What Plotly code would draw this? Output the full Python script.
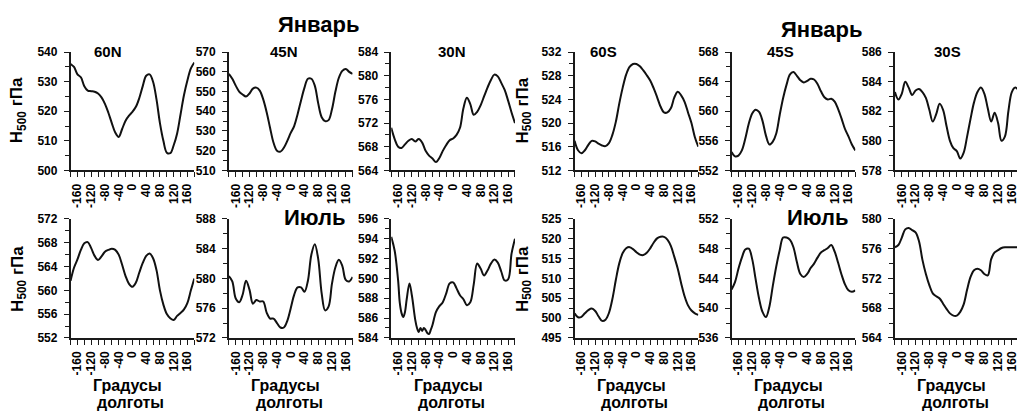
import plotly.graph_objects as go

# Longitude grid (degrees) shared by most series
LON = list(range(-180, 181, 10))

# January, H500 (gPa)
JAN_60N = [536, 535, 532.5, 531.5, 528.5, 527, 526.8, 526.6, 526, 524.7, 522.5, 519.5, 516,
           512.8, 511.3, 514, 516.8, 518.5, 519.8, 521.5, 524.5, 528.5, 532, 532.5, 530, 524,
           516, 510, 506, 505.8, 508.5, 512.5, 519, 525.5, 530.5, 534.5, 536.5]
JAN_45N = [559, 556.5, 553, 550, 548.5, 547.5, 549, 551.5, 552, 550.5, 546, 539.5, 531.5,
           524, 520, 519.5, 521.5, 525, 529, 532.5, 538.5, 545.5, 552, 556.5, 556.5, 553, 544,
           537, 535, 535.5, 541, 550, 557, 560.5, 561.5, 560, 559]
JAN_30N = [571.2, 569.3, 568, 567.8, 568.4, 569, 569.3, 568.9, 569.3, 568.7, 567.3, 566.5, 566,
           565.4, 566.1, 567.3, 568.3, 569.1, 569.4, 570, 571.2, 574.5, 576.3, 575.2, 573.4,
           573.9, 575, 576.5, 578, 579.3, 580.2, 579.9, 578.8, 577.6, 575.8, 573.8, 572]
JAN_60S = [517, 515.4, 514.9, 515.4, 516.3, 517, 516.9, 516.5, 516.2, 516.1, 516.6, 518, 520.2,
           523.3, 526, 528.2, 529.5, 530, 530, 529.6, 528.9, 528.1, 527.2, 525.9, 524.4, 522.8,
           521.8, 521.8, 522.5, 524.3, 525.3, 524.7, 523.6, 521.8, 520, 517.6, 516]
JAN_45S = [554.5, 553.9, 554, 554.7, 556.3, 558.3, 559.7, 560.2, 559.9, 558.7, 556.7, 555.5,
           555.9, 557, 559.5, 561.8, 563.6, 565, 565.3, 564.8, 564.2, 563.9, 564.1, 564.4,
           564.3, 563.7, 562.7, 561.9, 561.6, 561.7, 561.3, 560.3, 559, 557.6, 556.6, 555.5, 554.7]
JAN_30S = [583.3, 582.8, 583.2, 584, 583.6, 583.1, 583.4, 583.5, 583.3, 582.9, 582.1, 581.3,
           581.8, 582.5, 582.1, 581, 580, 579.5, 579.3, 578.8, 579.2, 580.3, 581.5, 582.6, 583.3,
           583.6, 583.2, 582.2, 581.3, 581.9, 581.2, 580, 580.3, 582, 583.3, 583.6, 583.4]

# July, H500 (gPa)
JUL_60N = [561.6, 563.8, 565.2, 566.8, 567.9, 568.1, 567.1, 565.8, 565.1, 565.7, 566.5, 566.8,
           567, 566.8, 566, 564.3, 562.4, 561.1, 560.6, 561.3, 563, 564.6, 565.8, 566.2, 565.4,
           563.4, 560, 557.6, 556, 555.3, 555, 555.7, 556.2, 556.8, 557.9, 560, 562]
JUL_45N = [580.3, 579.6, 577.3, 576.8, 577.8, 579.7, 578.5, 576.6, 577.1, 576.9, 576.9, 575.4,
           574.6, 574.6, 574, 573.4, 573.4, 574.3, 576, 577.8, 578.8, 578.8, 578.2, 579.7, 583.2,
           584.6, 582.6, 578, 575.7, 576.2, 579.3, 581.5, 582.5, 581.7, 579.8, 579.6, 580.2]
LON_JUL_30N = [-180, -170, -160, -155, -150, -145, -140, -135, -127, -120, -110, -105, -100,
               -95, -90, -85, -80, -75, -70, -65, -60, -50, -40, -30, -20, -10, 0, 10, 20, 30,
               40, 50, 60, 70, 80, 90, 100, 110, 120, 130, 140, 150, 160, 170, 180]
JUL_30N = [594.2, 592.8, 589.8, 587.5, 586.5, 586.1, 586.6, 587.9, 589.5, 588.3, 585.8, 585.0,
           584.6, 585.0, 584.7, 585.0, 584.8, 584.5, 584.4, 584.8, 585.3, 586.6, 587.2, 587.6,
           588.5, 589.5, 589.6, 589.0, 588.3, 587.9, 587.3, 587.6, 589.4, 591.5, 591.0, 590.3,
           590.8, 591.5, 591.9, 591.6, 590.7, 589.8, 589.9, 592.5, 594.0]
JUL_60S = [501.2, 500.2, 500.3, 501.2, 502, 502.4, 501.8, 500.4, 499.3, 499.6, 501.3, 504.8,
           509.6, 513.8, 516.4, 517.6, 517.9, 517.4, 516.6, 516, 515.9, 516.5, 517.6, 519, 520.1,
           520.5, 520.5, 519.8, 518.2, 515.5, 512.5, 508.8, 505.5, 503.2, 501.9, 501.2, 500.8]
JUL_45S = [542.5, 543.5, 545.3, 546.8, 547.9, 548, 546.6, 543.9, 541.3, 539.5, 538.8, 540.2,
           543, 545.6, 547.8, 549.5, 549.5, 549.2, 548.2, 546.2, 544.6, 544.2, 544.6, 545.4, 546,
           546.8, 547.5, 547.8, 548.1, 548.5, 547.6, 546.1, 544.5, 543.2, 542.4, 542.2, 542.4]
JUL_30S = [576.2, 576.5, 577.5, 578.6, 578.8, 578.5, 578.2, 577, 574.5, 572.6, 571.1, 570,
           569.6, 569.3, 568.6, 567.9, 567.3, 567, 567, 567.5, 568.5, 570.5, 572.2, 573.1, 573.3,
           573.1, 572.6, 572.4, 574.6, 575.5, 575.8, 576.1, 576.2, 576.2, 576.2, 576.2, 576.2]

PANEL_TITLES = ["60N", "45N", "30N", "60S", "45S", "30S"]
X_TICKS = [-160, -120, -80, -40, 0, 40, 80, 120, 160]

# (lon, values, y_min, y_max, y_step) per row, per column
ROWS = [
    [(LON, JAN_60N, 500, 540, 10), (LON, JAN_45N, 510, 570, 10), (LON, JAN_30N, 564, 584, 4),
     (LON, JAN_60S, 512, 532, 4), (LON, JAN_45S, 552, 568, 4), (LON, JAN_30S, 578, 586, 2)],
    [(LON, JUL_60N, 552, 572, 4), (LON, JUL_45N, 572, 588, 4), (LON_JUL_30N, JUL_30N, 584, 596, 2),
     (LON, JUL_60S, 495, 525, 5), (LON, JUL_45S, 536, 552, 4), (LON, JUL_30S, 564, 580, 4)],
]

W, H = 1019, 420
COL_X = [70.7, 229.3, 392.0, 575.7, 733.0, 896.7]
PANEL_W = 124.0
ROW_Y = [(46.7, 169.0), (219.3, 342.3)]   # top, bottom in px
PX_PER_DEG = PANEL_W / 360.0

FONT = "Liberation Sans, Arial, sans-serif"
LINE_C = "#1a1a1a"

fig = go.Figure()
layout = dict(width=W, height=H, margin=dict(l=0, r=0, t=0, b=0), showlegend=False,
              paper_bgcolor="white", plot_bgcolor="white")

k = 0
for r, row in enumerate(ROWS):
    top, bot = ROW_Y[r]
    for c, (lon, vals, y0, y1, ystep) in enumerate(row):
        k += 1
        sfx = "" if k == 1 else str(k)
        x_left = COL_X[c]
        x_right = min(x_left + PANEL_W, W)
        x_max = -180 + (x_right - x_left) / PX_PER_DEG
        fig.add_trace(go.Scatter(
            x=lon, y=vals, mode="lines",
            line=dict(color="#111111", width=2, shape="spline", smoothing=1.0),
            xaxis="x" + sfx, yaxis="y" + sfx, hoverinfo="skip"))
        tickfont = dict(family=FONT, size=12, color="black", weight="bold")
        layout["xaxis" + sfx] = dict(
            domain=[x_left / W, x_right / W], anchor="y" + sfx,
            range=[-180, x_max], tickmode="array", tickvals=X_TICKS,
            ticktext=[str(v) for v in X_TICKS], tickangle=-90,
            ticks="outside", ticklen=5, tickwidth=1.2, tickcolor=LINE_C,
            minor=dict(tickmode="linear", tick0=-180, dtick=20, ticks="outside",
                       ticklen=5, tickwidth=1.2, tickcolor=LINE_C),
            showline=True, linecolor=LINE_C, linewidth=1.5,
            showgrid=False, zeroline=False, tickfont=tickfont, ticklabelstandoff=2,
            ticklabeloverflow="allow")
        layout["yaxis" + sfx] = dict(
            domain=[1 - bot / H, 1 - top / H], anchor="x" + sfx,
            range=[y0, y1], tickmode="linear", tick0=y0, dtick=ystep,
            ticks="outside", ticklen=5, tickwidth=1.2, tickcolor=LINE_C,
            minor=dict(tickmode="linear", tick0=y0, dtick=ystep / 2, ticks="outside",
                       ticklen=4, tickwidth=1.2, tickcolor=LINE_C),
            showline=True, linecolor=LINE_C, linewidth=1.5,
            showgrid=False, zeroline=False, tickfont=tickfont, ticklabelstandoff=4,
            ticklabeloverflow="allow")

ann = []


def text(x, y, s, size, angle=0):
    ann.append(dict(x=x / W, y=1 - y / H, xref="paper", yref="paper", text=s,
                    showarrow=False, xanchor="center", yanchor="middle", textangle=angle,
                    font=dict(family=FONT, size=size, color="black", weight="bold")))


# Panel titles (top row)
for cx, t in zip([108, 285, 453.3, 605, 782.3, 949], PANEL_TITLES):
    text(cx, 46.5, t, 15)

# Month headings
text(319.5, 18.5, "Январь", 22)
text(823.3, 23.0, "Январь", 22)
text(315.5, 218.0, "Июль", 22)
text(820.0, 218.0, "Июль", 22)

# Y-axis titles
for cx in (18.3, 524.5):
    text(cx, 106.5, "H<sub>500</sub> гПа", 17, -90)
    text(cx, 281.0, "H<sub>500</sub> гПа", 17, -90)

# X-axis titles under the bottom row
for c in range(6):
    pc = COL_X[c] + PANEL_W / 2
    text(pc - 5, 391.5, "Градусы", 16)
    text(pc - 1.5, 409.5, "долготы", 16)

layout["annotations"] = ann
fig.update_layout(**layout)
fig.write_html("out.html")
